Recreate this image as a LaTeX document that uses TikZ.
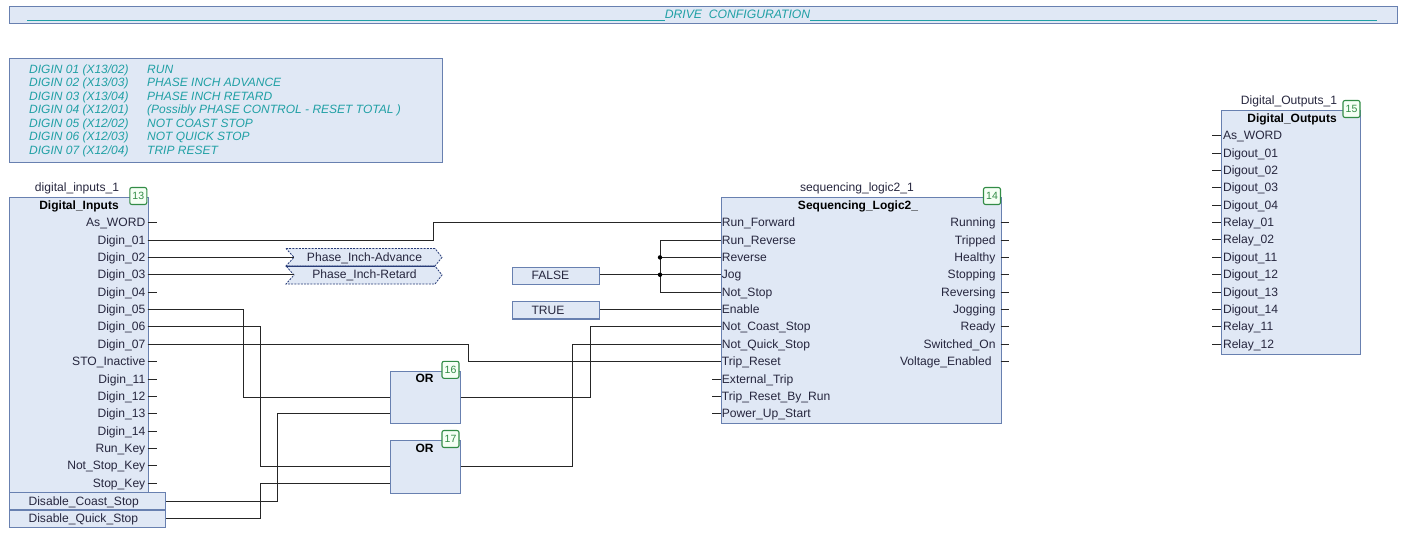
\documentclass[tikz,border=0pt]{standalone}
\usepackage{fontspec}
\setmainfont{Liberation Sans}
\usetikzlibrary{positioning}
\definecolor{softblue}{RGB}{224,232,245}
\definecolor{edge}{RGB}{104,128,176}
\definecolor{ink}{RGB}{38,38,62}
\definecolor{teal2}{RGB}{32,160,165}
\definecolor{okgreen}{RGB}{50,140,70}
\definecolor{tagblue}{RGB}{40,60,120}

\begin{document}
\begin{tikzpicture}[x=1pt,y=-1pt, every node/.style={font=\fontsize{12.1}{13.5}\selectfont,text=ink,inner sep=0pt},
  b/.style={draw=edge,fill=softblue,line width=1.1pt,anchor=north west},
  lit/.style={b,minimum height=17.4pt,text height=9.5pt,text depth=1.5pt,align=left,inner xsep=19.5pt},
  ttl/.style={font=\fontsize{12}{13.5}\selectfont\bfseries,text=black},
  pin/.style={text height=9.5pt,text depth=1.5pt},
  badge/.style={draw=okgreen,fill=green!4,rounded corners=2pt,line width=1.1pt,minimum size=17pt,text=okgreen,font=\fontsize{10.5}{11}\selectfont},
  note/.style={font=\fontsize{12}{13.5}\selectfont\itshape,text=teal2},
  w/.style={line width=1pt,draw=black!85},
  tag/.style={draw=tagblue,fill=softblue,dashed,dash pattern=on 2pt off 1.2pt,line width=.8pt},
  dot/.style={circle,fill=black,minimum size=4.4pt}]
  \useasboundingbox (0,0) rectangle (1404,548);

  % header and comment
  \node[b,minimum width=1388pt,minimum height=17pt] (hdr) at (8.5,6) {};
  \node[note,font=\fontsize{12.2}{13.5}\selectfont\itshape] (hdrtext) at (737.5,14) {DRIVE\ \ CONFIGURATION};
  \coordinate (hl) at (27,20);
  \coordinate (hr) at (1377,20);
  \draw[teal2,line width=.9pt] (hl) -- (hl -| hdrtext.west) (hdrtext.east |- hl) -- (hr);
  \node[b,minimum width=433.5pt,minimum height=104pt] (notes) at (8.5,58) {};
  \node[note,anchor=north west,align=left] (notestext) at (29,63.5) {%
    \begin{tabular}{@{}p{118pt}@{}l@{}}
    DIGIN 01 (X13/02) & RUN\\
    DIGIN 02 (X13/03) & PHASE INCH ADVANCE\\
    DIGIN 03 (X13/04) & PHASE INCH RETARD\\
    DIGIN 04 (X12/01) & (Possibly PHASE CONTROL - RESET TOTAL )\\
    DIGIN 05 (X12/02) & NOT COAST STOP\\
    DIGIN 06 (X12/03) & NOT QUICK STOP\\
    DIGIN 07 (X12/04) & TRIP RESET
    \end{tabular}};

  % inputs block
  \node[b,minimum width=139pt,minimum height=295pt] (inputs) at (8.5,197) {};
  \node[pin] (inputsname) at (77,188) {digital\_inputs\_1};
  \node[ttl,pin] (inputstitle) at (79,205) {Digital\_Inputs};
  \node[badge] (b13) at (138.3,196) {13};
  \foreach \n/\t [count=\i] in {asw/As\_WORD,d01/Digin\_01,d02/Digin\_02,d03/Digin\_03,d04/Digin\_04,d05/Digin\_05,d06/Digin\_06,d07/Digin\_07,sto/STO\_Inactive,d11/Digin\_11,d12/Digin\_12,d13/Digin\_13,d14/Digin\_14,runk/Run\_Key,nsk/Not\_Stop\_Key,stk/Stop\_Key} {
    \coordinate (\n) at (147.5,{205.3+17.37*\i});
    \node[pin,left=2pt of \n] (\n t) {\t};
    \draw[w] (\n) -- ++(9.5,0);
  }
  \node[lit,minimum width=156.5pt,text width=117.5pt] (dcoast) at (8.5,492) {Disable\_Coast\_Stop};
  \node[lit,minimum width=156.5pt,text width=117.5pt] (dquick) at (8.5,509.4) {Disable\_Quick\_Stop};

  % sequencing block
  \node[b,minimum width=280pt,minimum height=225.7pt] (seq) at (720.7,197) {};
  \node[pin] (seqname) at (857,188) {sequencing\_logic2\_1};
  \node[ttl,pin] (seqtitle) at (858,205) {Sequencing\_Logic2\_};
  \node[badge] (b14) at (992,196) {14};
  \foreach \n/\t [count=\i] in {sfwd/Run\_Forward,srr/Run\_Reverse,srev/Reverse,sjog/Jog,sns/Not\_Stop,sen/Enable,scs/Not\_Coast\_Stop,sqs/Not\_Quick\_Stop,str/Trip\_Reset,sext/External\_Trip,strr/Trip\_Reset\_By\_Run,spu/Power\_Up\_Start} {
    \coordinate (\n) at (720.7,{205.3+17.37*\i});
    \node[pin,right=1pt of \n] (\n t) {\t};
    \draw[w] (\n) -- ++(-9,0);
  }
  \foreach \n/\t [count=\i] in {orun/Running,otr/Tripped,ohe/Healthy,ost/Stopping,orv/Reversing,ojg/Jogging,ord/Ready,osw/Switched\_On} {
    \coordinate (\n) at (1000.7,{205.3+17.37*\i});
    \node[pin,left=5pt of \n] (\n t) {\t};
    \draw[w] (\n) -- ++(8.5,0);
  }
  \coordinate (ove) at (1000.7,361.6);
  \node[pin,left=9pt of ove] (ovet) {Voltage\_Enabled};
  \draw[w] (ove) -- ++(8.5,0);

  % outputs block
  \node[b,minimum width=139pt,minimum height=243.5pt] (outputs) at (1221.3,110) {};
  \node[pin] (outputsname) at (1289,101) {Digital\_Outputs\_1};
  \node[ttl,pin] (outputstitle) at (1292,118.5) {Digital\_Outputs};
  \node[badge] (b15) at (1351.5,109) {15};
  \foreach \n/\t [count=\i] in {oasw/As\_WORD,do01/Digout\_01,do02/Digout\_02,do03/Digout\_03,do04/Digout\_04,rl01/Relay\_01,rl02/Relay\_02,do11/Digout\_11,do12/Digout\_12,do13/Digout\_13,do14/Digout\_14,rl11/Relay\_11,rl12/Relay\_12} {
    \coordinate (\n) at (1221.3,{118.3+17.37*\i});
    \node[pin,right=1.5pt of \n] (\n t) {\t};
    \draw[w] (\n) -- ++(-9,0);
  }

  % OR gates
  \node[b,minimum width=69.5pt,minimum height=52.5pt] (or16) at (390,370.5) {};
  \node[ttl,pin] (or16t) at (424.5,378) {OR};
  \node[badge] (b16) at (450.5,369.8) {16};
  \coordinate (or16b) at (390,413.7);
  \node[b,minimum width=69.5pt,minimum height=52.5pt] (or17) at (390,440) {};
  \node[ttl,pin] (or17t) at (424.5,448) {OR};
  \node[badge] (b17) at (450.5,439) {17};
  \coordinate (or17b) at (390,483.3);

  % constants and connector tags
  \node[lit,minimum width=87pt,text width=48pt] (false) at (511.5,266.5) {FALSE};
  \node[lit,minimum width=87pt,text width=48pt] (true) at (511.5,301) {TRUE};
  \draw[tag] (286,248.5) -- (435,248.5) -- (442,257.3) -- (435,266) -- (286,266) -- (294,257.3) -- cycle;
  \draw[tag] (286,266) -- (435,266) -- (442,275) -- (435,284) -- (286,284) -- (294,275) -- cycle;
  \draw[tagblue,line width=.9pt] (286,266) -- (435,266);
  \node[pin,minimum width=141pt] (padv) at (364.5,257.4) {Phase\_Inch-Advance};
  \node[pin,minimum width=141pt] (pret) at (364.5,274.8) {Phase\_Inch-Retard};

  % wires
  \draw[w] (d01) -- (433,0 |- d01) -- (433,0 |- sfwd) -- (sfwd);
  \draw[w] (d02) -- (padv.west |- d02);
  \draw[w] (d03) -- (pret.west |- d03);
  \draw[w] (d05) -- (243,0 |- d05) -- (243,0 |- or16.west) -- (or16.west);
  \draw[w] (d06) -- (260,0 |- d06) -- (260,0 |- or17.west) -- (or17.west);
  \draw[w] (d07) -- (468,0 |- d07) -- (468,0 |- str) -- (str);
  \draw[w] (dcoast.east) -- (277.3,0 |- dcoast.east) -- (277.3,0 |- or16b) -- (or16b);
  \draw[w] (dquick.east) -- (260,0 |- dquick.east) -- (260,0 |- or17b) -- (or17b);
  \draw[w] (or16.east) -- (590,0 |- or16.east) -- (590,0 |- scs) -- (scs);
  \draw[w] (or17.east) -- (572.4,0 |- or17.east) -- (572.4,0 |- sqs) -- (sqs);
  \draw[w] (false.east |- sjog) -- (sjog);
  \draw[w] (true.east |- sen) -- (sen);
  \draw[w] (srr) -- (660,0 |- srr) -- (660,0 |- sns) -- (sns);
  \draw[w] (660,0 |- srev) -- (srev);
  \node[dot] (jrev) at (660,0 |- srev) {};
  \node[dot] (jjog) at (660,0 |- sjog) {};
\end{tikzpicture}
\end{document}
